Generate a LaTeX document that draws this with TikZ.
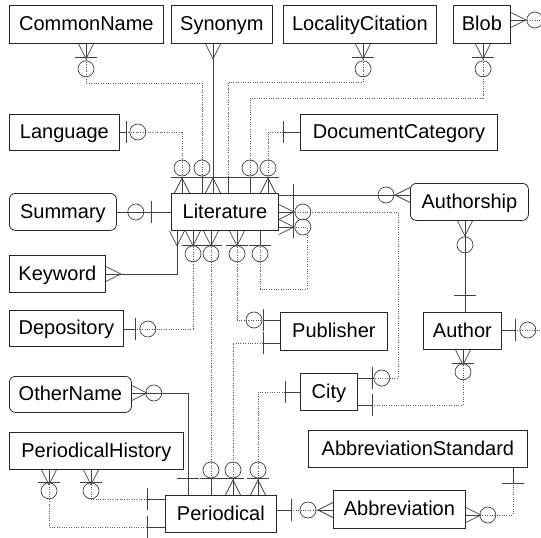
\documentclass[tikz,border=0pt]{standalone}
\usepackage{fontspec}
\setmainfont{Liberation Sans}
% end marks of a connector, drawn in a frame whose +x axis points away from the box
\newcommand\ercrow{\draw[link] (0,-7.5) -- (15,0) -- (0,7.5);}
\newcommand\erbar[1]{\draw[link] (#1,-11) -- (#1,11);}
\newcommand\ercirc[1]{\draw[link] (#1,0) circle[radius=8pt];}
\newcommand\erend[3]{\begin{scope}[shift={(#1)},rotate=#2]#3\end{scope}}
\begin{document}
\begin{tikzpicture}[x=1pt,y=-1pt,
  ent/.style={draw=black!85, line width=0.8pt, anchor=north west, inner sep=0pt,
    font=\fontsize{20pt}{24pt}\selectfont, text height=13pt, text depth=0pt},
  rent/.style={ent, rounded corners=6pt},
  link/.style={draw=black!75, line width=0.7pt},
  dots/.style={draw=black!65, line width=0.7pt, dash pattern=on 1pt off 1.4pt},
]
\useasboundingbox (0,0) rectangle (541,538);
\clip (0,0) rectangle (541,538);

% entities
\node[ent, minimum width=154pt, minimum height=38pt] (cn) at (9,5) {CommonName};
\node[ent, minimum width=101pt, minimum height=38pt] (syn) at (171,5) {Synonym};
\node[ent, minimum width=153pt, minimum height=38pt] (lc) at (283,5) {LocalityCitation};
\node[ent, minimum width=57pt, minimum height=38pt] (blob) at (453,5) {Blob};
\node[ent, minimum width=110pt, minimum height=36pt] (lang) at (9,114) {Language};
\node[ent, minimum width=197pt, minimum height=36pt] (doc) at (300,114) {DocumentCategory};
\node[rent, minimum width=107pt, minimum height=37pt] (sum) at (9,193) {Summary};
\node[ent, minimum width=107pt, minimum height=37pt] (lit) at (171,193) {Literature};
\node[rent, minimum width=118pt, minimum height=37pt] (auth) at (410,183) {Authorship};
\node[ent, minimum width=96pt, minimum height=37pt] (kw) at (9,255) {Keyword};
\node[ent, minimum width=114pt, minimum height=36pt] (dep) at (9,310) {Depository};
\node[ent, minimum width=107pt, minimum height=38pt] (pub) at (280,312) {Publisher};
\node[ent, minimum width=78pt, minimum height=37pt] (author) at (423,312) {Author};
\node[rent, minimum width=122pt, minimum height=36pt] (on) at (9,376) {OtherName};
\node[ent, minimum width=57pt, minimum height=37pt] (city) at (300,373) {City};
\node[ent, minimum width=174pt, minimum height=37pt] (ph) at (9,432) {PeriodicalHistory};
\node[ent, minimum width=219pt, minimum height=37pt] (as) at (308,430) {AbbreviationStandard};
\node[ent, minimum width=111pt, minimum height=37pt] (per) at (165,495) {Periodical};
\node[ent, minimum width=132pt, minimum height=38pt] (abb) at (333,490) {Abbreviation};

% CommonName -- Literature
\draw[link] (cn.south -| 86,0) -- (86,57);
\draw[dots] (86,57) -- (86,83) -- (202,83) -- (202,177);
\draw[link] (202,177) -- (lit.north -| 202,0);
\erend{cn.south -| 86,0}{-90}{\ercrow\erbar{14}\ercirc{25}}
\erend{lit.north -| 202,0}{90}{\erbar{16}\ercirc{25}}

% Synonym -- Literature
\draw[link] (syn.south -| 213,0) -- (lit.north -| 213,0);
\erend{syn.south -| 213,0}{-90}{\ercrow}
\erend{lit.north -| 213,0}{90}{\ercrow\erbar{16}}

% LocalityCitation -- Literature
\draw[link] (lc.south -| 363,0) -- (363,57);
\draw[dots] (363,57) -- (363,82) -- (228,82) -- (228,177);
\draw[link] (228,177) -- (lit.north -| 228,0);
\erend{lc.south -| 363,0}{-90}{\ercrow\erbar{14}\ercirc{25}}
\erend{lit.north -| 228,0}{90}{\erbar{16}}

% Blob -- Literature
\draw[link] (blob.south -| 483,0) -- (483,57);
\draw[dots] (483,57) -- (483,98) -- (250,98) -- (250,177);
\draw[link] (250,177) -- (lit.north -| 250,0);
\erend{blob.south -| 483,0}{-90}{\ercrow\erbar{14}\ercirc{25}}
\erend{lit.north -| 250,0}{90}{\erbar{16}\ercirc{25}}

% Language -- Literature
\draw[link] (lang.east |- 0,132) -- (126,132);
\draw[dots] (126,132) -- (182,132) -- (182,177);
\draw[link] (182,177) -- (lit.north -| 182,0);
\erend{lang.east |- 0,132}{0}{\erbar{7}\ercirc{18}}
\erend{lit.north -| 182,0}{90}{\ercrow\erbar{16}\ercirc{25}}

% DocumentCategory -- Literature
\draw[link] (doc.west |- 0,132) -- (283,132);
\draw[dots] (283,132) -- (268,132) -- (268,177);
\draw[link] (268,177) -- (lit.north -| 268,0);
\erend{doc.west |- 0,132}{180}{\erbar{17}}
\erend{lit.north -| 268,0}{90}{\ercrow\erbar{16}\ercirc{25}}

% Summary -- Literature
\draw[link] (sum.east |- 0,212) -- (lit.west |- 0,212);
\erend{sum.east |- 0,212}{0}{\ercirc{19}}
\erend{lit.west |- 0,212}{180}{\erbar{20}}

% Keyword -- Literature
\draw[link] (kw.east |- 0,274) -- (177,274) -- (lit.south -| 177,0);
\erend{kw.east |- 0,274}{0}{\ercrow}
\erend{lit.south -| 177,0}{-90}{\ercrow}

% Depository -- Literature
\draw[link] (dep.east |- 0,329) -- (135,329);
\draw[dots] (135,329) -- (193,329) -- (193,245);
\draw[link] (193,245) -- (lit.south -| 193,0);
\erend{dep.east |- 0,329}{0}{\erbar{12}\ercirc{24}}
\erend{lit.south -| 193,0}{-90}{\ercrow\erbar{15}\ercirc{23}}

% Literature -- Periodical
\draw[link] (lit.south -| 211,0) -- (211,245);
\draw[dots, line width=1pt] (211,245) -- (211,478);
\draw[link] (211,478) -- (per.north -| 211,0);
\erend{lit.south -| 211,0}{-90}{\ercrow\erbar{15}\ercirc{23}}
\erend{per.north -| 211,0}{90}{\erbar{17}\ercirc{25}}

% Literature -- Publisher
\draw[link] (lit.south -| 237,0) -- (237,245);
\draw[dots] (237,245) -- (237,320) -- (263,320);
\draw[link] (263,320) -- (pub.west |- 0,320);
\erend{lit.south -| 237,0}{-90}{\ercrow\erbar{15}\ercirc{23}}
\erend{pub.west |- 0,320}{180}{\erbar{17}\ercirc{26}}

% Literature -- Literature
\draw[link] (lit.south -| 260,0) -- (260,245);
\draw[dots] (260,245) -- (260,289) -- (307,289) -- (307,227) -- (293,227);
\draw[link] (293,227) -- (lit.east |- 0,227);
\erend{lit.south -| 260,0}{-90}{\erbar{15}\ercirc{23}}
\erend{lit.east |- 0,227}{0}{\ercrow\erbar{15}\ercirc{24}}

% Literature -- City
\draw[link] (lit.east |- 0,212) -- (293,212);
\draw[dots] (293,212) -- (398,212) -- (398,378) -- (372,378);
\draw[link] (372,378) -- (city.east |- 0,378);
\erend{lit.east |- 0,212}{0}{\ercrow\erbar{15}\ercirc{24}}
\erend{city.east |- 0,378}{0}{\erbar{15}\ercirc{24}}

% Literature -- Authorship
\draw[link] (lit.east |- 0,195) -- (auth.west |- 0,195);
\erend{lit.east |- 0,195}{0}{\erbar{15}}
\erend{auth.west |- 0,195}{180}{\ercrow\ercirc{24}}

% Authorship -- Author
\draw[link] (auth.south -| 465,0) -- (author.north -| 465,0);
\erend{auth.south -| 465,0}{-90}{\ercrow\ercirc{24}}
\erend{author.north -| 465,0}{90}{\erbar{17}}

% Author -- City
\draw[link] (author.south -| 463,0) -- (463,363);
\draw[dots] (463,363) -- (463,405) -- (372,405);
\draw[link] (372,405) -- (city.east |- 0,405);
\erend{author.south -| 463,0}{-90}{\ercrow\erbar{14}\ercirc{22}}
\erend{city.east |- 0,405}{0}{\erbar{15}}

% City -- Periodical
\draw[link] (city.west |- 0,392) -- (285,392);
\draw[dots] (285,392) -- (258,392) -- (258,478);
\draw[link] (258,478) -- (per.north -| 258,0);
\erend{city.west |- 0,392}{180}{\erbar{15}}
\erend{per.north -| 258,0}{90}{\ercrow\erbar{17}\ercirc{25}}

% Publisher -- Periodical
\draw[link] (pub.west |- 0,343) -- (263,343);
\draw[dots] (263,343) -- (233,343) -- (233,478);
\draw[link] (233,478) -- (per.north -| 233,0);
\erend{pub.west |- 0,343}{180}{\erbar{17}}
\erend{per.north -| 233,0}{90}{\ercrow\erbar{17}\ercirc{25}}

% OtherName -- Periodical
\draw[link] (on.east |- 0,393) -- (188,393) -- (per.north -| 188,0);
\erend{on.east |- 0,393}{0}{\ercrow\ercirc{22}}
\erend{per.north -| 188,0}{90}{\erbar{17}}

% PeriodicalHistory -- Periodical (two links)
\draw[link] (ph.south -| 91,0) -- (91,482);
\draw[dots] (91,482) -- (91,499) -- (147,499);
\draw[link] (147,499) -- (per.west |- 0,499);
\erend{ph.south -| 91,0}{-90}{\ercrow\erbar{13}\ercirc{21}}
\erend{per.west |- 0,499}{180}{\erbar{18}}
\draw[link] (ph.south -| 49,0) -- (49,482);
\draw[dots] (49,482) -- (49,527) -- (147,527);
\draw[link] (147,527) -- (per.west |- 0,527);
\erend{ph.south -| 49,0}{-90}{\ercrow\erbar{13}\ercirc{21}}
\erend{per.west |- 0,527}{180}{\erbar{18}}

% Periodical -- Abbreviation
\draw[link] (per.east |- 0,510) -- (291,510);
\draw[dots] (291,510) -- (318,510);
\draw[link] (318,510) -- (abb.west |- 0,510);
\erend{per.east |- 0,510}{0}{\erbar{15}}
\erend{abb.west |- 0,510}{180}{\ercrow\ercirc{25}}

% Abbreviation -- AbbreviationStandard
\draw[link] (abb.east |- 0,515) -- (480,515);
\draw[dots] (480,515) -- (513,515) -- (513,483);
\draw[link] (513,483) -- (as.south -| 513,0);
\erend{abb.east |- 0,515}{0}{\ercrow\ercirc{22}}
\erend{as.south -| 513,0}{-90}{\erbar{16}}

% Author and Blob links leaving to the right
\coordinate (authloop) at (541,330);
\draw[link] (author.east |- 0,330) -- (515,330);
\draw[dots] (515,330) -- (authloop);
\erend{author.east |- 0,330}{0}{\erbar{14}\ercirc{26}}
\coordinate (blobloop) at (541,20);
\draw[link] (blob.east |- 0,20) -- (525,20);
\draw[dots] (525,20) -- (blobloop);
\erend{blob.east |- 0,20}{0}{\ercrow\ercirc{24}}
\end{tikzpicture}
\end{document}
